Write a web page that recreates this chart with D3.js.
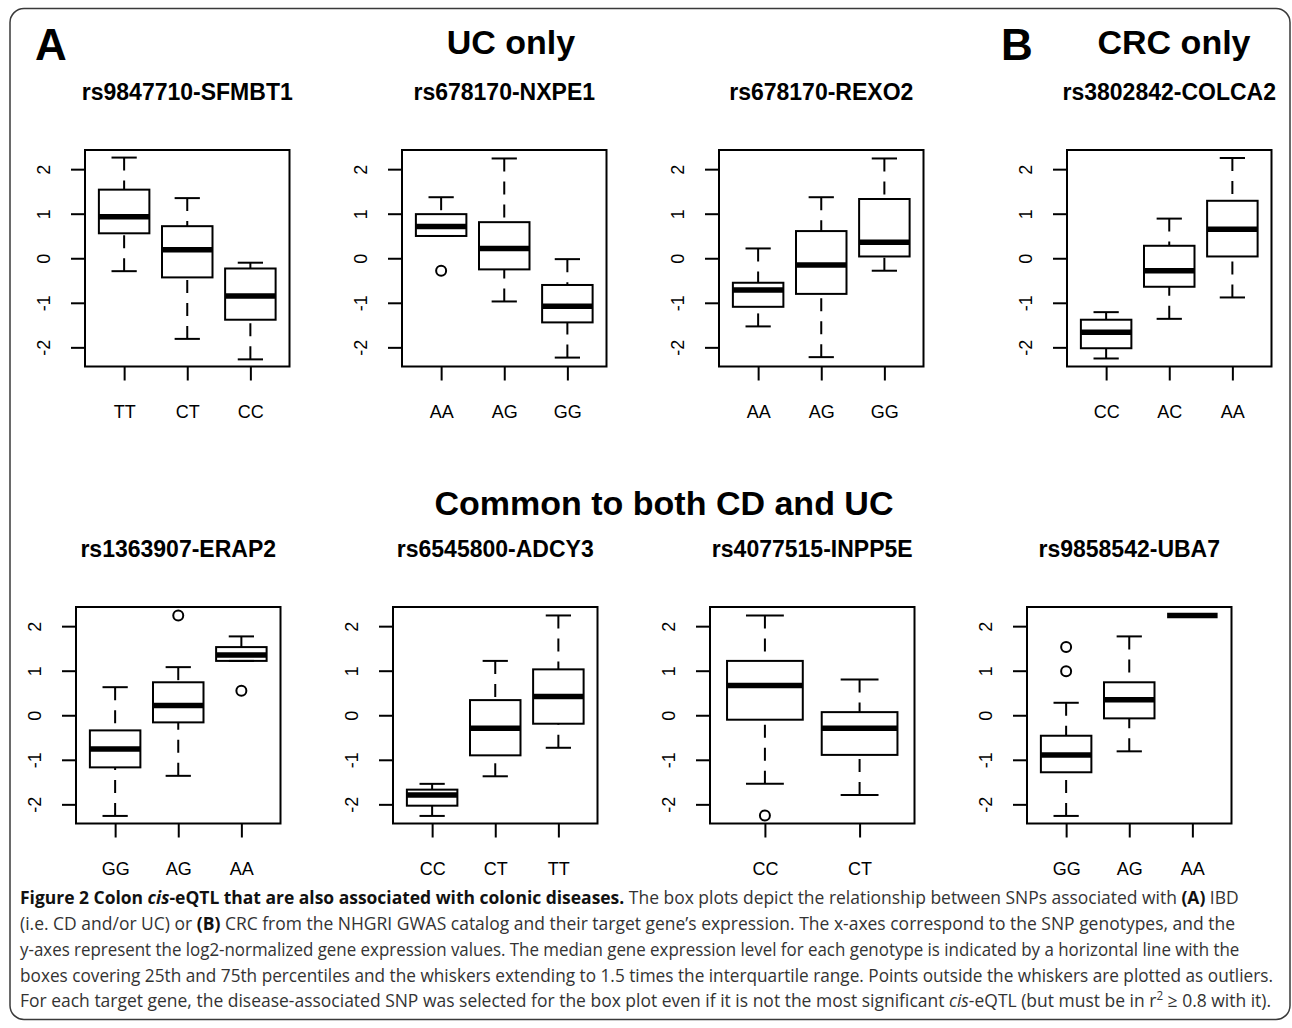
<!DOCTYPE html>
<html lang="en">
<head>
    <meta charset="UTF-8">
    <title>Figure 2 Colon cis-eQTL that are also associated with colonic diseases</title>
    <script src="https://d3js.org/d3.v7.min.js"></script>
    <style>
        body { margin: 0; background: #fff; }
        svg { display: block; }
    </style>
</head>
<body>
    <svg id="figure" width="1292" height="1028"></svg>

    <script>
        // one entry per panel, left to right, top row then bottom row
        const panelTitles = ["rs9847710-SFMBT1", "rs678170-NXPE1", "rs678170-REXO2", "rs3802842-COLCA2",
                             "rs1363907-ERAP2", "rs6545800-ADCY3", "rs4077515-INPP5E", "rs9858542-UBA7"];
        const genotypes = [["TT", "CT", "CC"], ["AA", "AG", "GG"], ["AA", "AG", "GG"], ["CC", "AC", "AA"],
                           ["GG", "AG", "AA"], ["CC", "CT", "TT"], ["CC", "CT"], ["GG", "AG", "AA"]];
        const whiskerLow = [[-0.29, -1.81, -2.27], [0.50, -0.97, -2.23], [-1.53, -2.22, -0.28], [-2.25, -1.36, -0.88],
                            [-2.26, -1.36, 1.22], [-2.26, -1.37, -0.73], [-1.54, -1.79], [-2.26, -0.81, 2.24]];
        const quartile1 = [[0.56, -0.43, -1.38], [0.50, -0.25, -1.44], [-1.09, -0.80, 0.04], [-2.02, -0.64, 0.04],
                           [-1.17, -0.16, 1.22], [-2.03, -0.90, -0.19], [-0.10, -0.89], [-1.28, -0.07, 2.24]];
        const medians = [[0.93, 0.19, -0.85], [0.71, 0.22, -1.08], [-0.71, -0.15, 0.36], [-1.66, -0.28, 0.65],
                         [-0.76, 0.22, 1.35], [-1.79, -0.29, 0.42], [0.67, -0.29], [-0.89, 0.35, 2.24]];
        const quartile3 = [[1.54, 0.72, -0.23], [0.99, 0.81, -0.60], [-0.55, 0.61, 1.33], [-1.38, 0.28, 1.29],
                           [-0.34, 0.74, 1.53], [-1.67, 0.34, 1.03], [1.22, 0.07], [-0.46, 0.74, 2.24]];
        const whiskerHigh = [[2.26, 1.35, -0.10], [1.37, 2.24, -0.02], [0.22, 1.37, 2.24], [-1.21, 0.89, 2.25],
                             [0.63, 1.08, 1.77], [-1.54, 1.22, 2.24], [2.24, 0.80], [0.28, 1.77, 2.24]];
        const outliers = [[[], [], []], [[-0.28], [], []], [[], [], []], [[], [], []],
                          [[], [2.24], [0.55]], [[], [], []], [[-2.25], []], [[1.53, 0.99], [], []]];
        const yTicks = [-2, -1, 0, 1, 2];
        const yRange = [-2.43, 2.43];

        const plotW = 204.5, plotH = 216.5;
        const panelLeft = [85, 402, 719, 1067, 76, 393, 710, 1027];
        const panelTop = [150, 150, 150, 150, 607, 607, 607, 607];
        const rFont = "'Liberation Sans', Arial, Helvetica, sans-serif";

        const svg = d3.select("#figure");

        svg.append("rect")
            .attr("x", 10).attr("y", 8.5)
            .attr("width", 1280).attr("height", 1011)
            .attr("rx", 14)
            .attr("fill", "none")
            .attr("stroke", "#3a3a3a")
            .attr("stroke-width", 1.5);

        panelTitles.forEach(function(title, p) {
            const n = genotypes[p].length;
            // R pads the axis range by 4% on both sides
            const x = d3.scaleLinear()
                        .domain([0.5 - 0.04 * n, n + 0.5 + 0.04 * n])
                        .range([0, plotW]);
            const y = d3.scaleLinear()
                        .domain(yRange)
                        .range([plotH, 0]);
            const bw = 0.8 * (x(2) - x(1));

            const boxes = genotypes[p].map(function(gt, i) {
                return { pos: i + 1, lo: whiskerLow[p][i], q1: quartile1[p][i], med: medians[p][i],
                         q3: quartile3[p][i], hi: whiskerHigh[p][i], out: outliers[p][i] };
            });

            const g = svg.append("g")
                .attr("transform", "translate(" + panelLeft[p] + "," + panelTop[p] + ")");

            g.append("text")
                .attr("x", plotW / 2)
                .attr("y", -50)
                .attr("text-anchor", "middle")
                .style("font-family", rFont)
                .style("font-weight", "bold")
                .style("font-size", "23px")
                .text(title);

            const yAxis = g.append("g")
                .call(d3.axisLeft(y).tickValues(yTicks).tickSize(14).tickFormat(d3.format("d")));
            yAxis.select(".domain").remove();
            yAxis.selectAll("line").attr("stroke-width", 2);
            yAxis.selectAll("text")
                .attr("transform", "rotate(-90)")
                .attr("x", 0)
                .attr("y", -35)
                .attr("dy", null)
                .attr("text-anchor", "middle")
                .style("font-family", rFont)
                .style("font-size", "18px")
                .text(function(d) { return d < 0 ? "-" + Math.abs(d) : d; });

            const xAxis = g.append("g")
                .attr("transform", "translate(0," + plotH + ")")
                .call(d3.axisBottom(x)
                        .tickValues(d3.range(1, n + 1))
                        .tickSize(14)
                        .tickPadding(25)
                        .tickFormat(function(d) { return genotypes[p][d - 1]; }));
            xAxis.select(".domain").remove();
            xAxis.selectAll("line").attr("stroke-width", 2);
            xAxis.selectAll("text")
                .style("font-family", rFont)
                .style("font-size", "18px");

            // whiskers, drawn from the cap towards the box
            g.selectAll(".whiskLow")
                .data(boxes)
                .enter().append("line")
                .attr("x1", function(d) { return x(d.pos); })
                .attr("x2", function(d) { return x(d.pos); })
                .attr("y1", function(d) { return y(d.lo); })
                .attr("y2", function(d) { return y(d.q1); })
                .attr("stroke", "#000").attr("stroke-width", 2)
                .attr("stroke-dasharray", "13,10");

            g.selectAll(".whiskHigh")
                .data(boxes)
                .enter().append("line")
                .attr("x1", function(d) { return x(d.pos); })
                .attr("x2", function(d) { return x(d.pos); })
                .attr("y1", function(d) { return y(d.hi); })
                .attr("y2", function(d) { return y(d.q3); })
                .attr("stroke", "#000").attr("stroke-width", 2)
                .attr("stroke-dasharray", "13,10");

            ["lo", "hi"].forEach(function(k) {
                g.selectAll(".cap-" + k)
                    .data(boxes)
                    .enter().append("line")
                    .attr("x1", function(d) { return x(d.pos) - bw / 4; })
                    .attr("x2", function(d) { return x(d.pos) + bw / 4; })
                    .attr("y1", function(d) { return y(d[k]); })
                    .attr("y2", function(d) { return y(d[k]); })
                    .attr("stroke", "#000").attr("stroke-width", 2);
            });

            g.selectAll(".box")
                .data(boxes)
                .enter().append("rect")
                .attr("x", function(d) { return x(d.pos) - bw / 2; })
                .attr("width", bw)
                .attr("y", function(d) { return y(d.q3); })
                .attr("height", function(d) { return y(d.q1) - y(d.q3); })
                .attr("fill", "none")
                .attr("stroke", "#000").attr("stroke-width", 2);

            g.selectAll(".median")
                .data(boxes)
                .enter().append("line")
                .attr("x1", function(d) { return x(d.pos) - bw / 2; })
                .attr("x2", function(d) { return x(d.pos) + bw / 2; })
                .attr("y1", function(d) { return y(d.med); })
                .attr("y2", function(d) { return y(d.med); })
                .attr("stroke", "#000").attr("stroke-width", 5.5);

            const pts = [];
            boxes.forEach(function(d) {
                d.out.forEach(function(v) { pts.push({ pos: d.pos, v: v }); });
            });
            g.selectAll(".outlier")
                .data(pts)
                .enter().append("circle")
                .attr("cx", function(d) { return x(d.pos); })
                .attr("cy", function(d) { return y(d.v); })
                .attr("r", 5)
                .attr("fill", "none")
                .attr("stroke", "#000").attr("stroke-width", 2);

            g.append("rect")
                .attr("width", plotW)
                .attr("height", plotH)
                .attr("fill", "none")
                .attr("stroke", "#000").attr("stroke-width", 2);
        });

        // section headings
        const headings = [
            { t: "A", x: 35, y: 60, size: 44, anchor: "start" },
            { t: "B", x: 1001, y: 60, size: 44, anchor: "start" },
            { t: "UC only", x: 511, y: 54, size: 34, anchor: "middle" },
            { t: "CRC only", x: 1174, y: 54, size: 34, anchor: "middle" },
            { t: "Common to both CD and UC", x: 664, y: 515, size: 34, anchor: "middle" }
        ];
        svg.selectAll(".heading")
            .data(headings)
            .enter().append("text")
            .attr("x", function(d) { return d.x; })
            .attr("y", function(d) { return d.y; })
            .attr("text-anchor", function(d) { return d.anchor; })
            .style("font-family", rFont)
            .style("font-weight", "bold")
            .style("font-size", function(d) { return d.size + "px"; })
            .text(function(d) { return d.t; });

        // caption, one text element per printed line
        const captionLines = [
            [["Figure 2 Colon ", "b"], ["cis", "bi"], ["-eQTL that are also associated with colonic diseases.", "b"],
             [" The box plots depict the relationship between SNPs associated with ", ""], ["(A)", "b"], [" IBD", ""]],
            [["(i.e. CD and/or UC) or ", ""], ["(B)", "b"],
             [" CRC from the NHGRI GWAS catalog and their target gene\u2019s expression. The x-axes correspond to the SNP genotypes, and the", ""]],
            [["y-axes represent the log2-normalized gene expression values. The median gene expression level for each genotype is indicated by a horizontal line with the", ""]],
            [["boxes covering 25th and 75th percentiles and the whiskers extending to 1.5 times the interquartile range. Points outside the whiskers are plotted as outliers.", ""]],
            [["For each target gene, the disease-associated SNP was selected for the box plot even if it is not the most significant ", ""], ["cis", "i"],
             ["-eQTL (but must be in r", ""], ["2", "sup"], [" \u2265 0.8 with it).", ""]]
        ];
        const captionEnd = [1240, 1236, 1240, 1273, 1272];
        const captionBase = [904, 930, 956, 982, 1007];

        captionLines.forEach(function(parts, li) {
            const t = svg.append("text")
                .attr("x", 0)
                .attr("y", 0)
                .style("font-family", "'Open Sans', 'Noto Sans', sans-serif")
                .style("font-size", "18px")
                .attr("fill", "#333");
            let raised = false;
            parts.forEach(function(part) {
                const s = t.append("tspan").text(part[0]);
                if (part[1].indexOf("b") >= 0) s.style("font-weight", "bold").attr("fill", "#111");
                if (part[1].indexOf("i") >= 0) s.style("font-style", "italic");
                if (part[1] === "sup") {
                    s.style("font-size", "12px").attr("dy", -7);
                    raised = true;
                } else if (raised) {
                    s.attr("dy", 7);
                    raised = false;
                }
            });
            // squeeze the line horizontally so it ends where the printed line ends
            const natural = t.node().getComputedTextLength();
            const k = (captionEnd[li] - 20) / natural;
            t.attr("transform", "translate(20," + captionBase[li] + ") scale(" + k + ",1)");
        });
    </script>
</body>
</html>
